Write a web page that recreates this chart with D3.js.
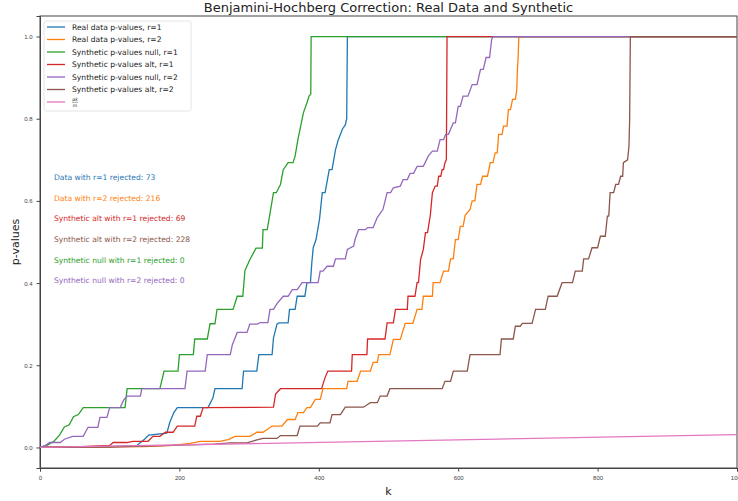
<!DOCTYPE html>
<html>
<head>
<meta charset="utf-8">
<script src="https://cdn.jsdelivr.net/npm/d3@7"></script>
<style>
  body { margin: 0; background: #fff; }
  svg { font-family: "DejaVu Sans", sans-serif; }
  .axis path, .axis line { stroke: #444; }
  .axis text { fill: #444; font-size: 6px; }
  .series { fill: none; stroke-width: 1.3; }
</style>
</head>
<body>
<svg id="chart" width="738" height="501"></svg>
<script>
// sorted BH-adjusted p-values as [k, p] breakpoints
var realR1 = [[0,0],[100,0.002],[139,0.005],[150,0.02],[156,0.03],[182,0.035],[186,0.06],[192,0.085],[197,0.097],[241,0.097],[248,0.12],[251,0.143],[290,0.143],[292,0.186],[311,0.186],[314,0.226],[333,0.226],[335,0.267],[340,0.3],[343,0.303],[356,0.303],[358,0.336],[366,0.336],[369,0.368],[380,0.368],[383,0.401],[388,0.401],[390,0.45],[392,0.486],[396,0.506],[401,0.555],[405,0.62],[409,0.62],[415,0.676],[419,0.676],[424,0.725],[428,0.749],[434,0.775],[438,0.785],[440,0.8],[441,1.0],[1000,1.0]];

var realR2 = [[0,0],[150,0.002],[190,0.005],[215,0.01],[230,0.015],[258,0.015],[270,0.019],[280,0.027],[301,0.027],[311,0.037],[320,0.037],[333,0.052],[347,0.052],[355,0.068],[366,0.068],[370,0.085],[378,0.085],[383,0.097],[388,0.097],[395,0.117],[402,0.117],[406,0.143],[440,0.143],[442,0.161],[455,0.161],[460,0.186],[474,0.186],[478,0.207],[484,0.207],[486,0.226],[502,0.226],[507,0.263],[517,0.263],[520,0.28],[524,0.302],[535,0.302],[541,0.336],[548,0.336],[550,0.368],[563,0.368],[564,0.401],[574,0.401],[579,0.429],[586,0.429],[589,0.459],[593,0.459],[596,0.506],[600,0.506],[603,0.538],[607,0.538],[610,0.565],[617,0.579],[620,0.6],[624,0.6],[627,0.64],[632,0.64],[635,0.66],[642,0.66],[646,0.693],[650,0.693],[653,0.717],[656,0.717],[658,0.762],[663,0.762],[665,0.782],[670,0.782],[672,0.822],[675,0.822],[678,0.847],[682,0.847],[684,0.87],[685,0.92],[686,0.95],[687,1.0],[1000,1.0]];

var nullR1 = [[0,0],[10,0.005],[20,0.015],[28,0.03],[35,0.05],[42,0.055],[48,0.075],[55,0.08],[62,0.097],[122,0.097],[125,0.143],[172,0.143],[178,0.186],[198,0.186],[200,0.226],[220,0.226],[222,0.264],[240,0.264],[244,0.301],[251,0.301],[254,0.336],[277,0.336],[283,0.368],[291,0.368],[294,0.43],[301,0.457],[310,0.485],[319,0.485],[320,0.53],[326,0.53],[329,0.56],[335,0.62],[339,0.62],[345,0.64],[349,0.676],[356,0.693],[363,0.693],[366,0.709],[370,0.749],[378,0.815],[383,0.839],[386,0.855],[388.5,0.86],[389,1.0],[1000,1.0]];

var altR1 = [[0,0],[60,0.002],[100,0.005],[105,0.012],[125,0.012],[133,0.015],[155,0.015],[162,0.027],[172,0.027],[180,0.037],[191,0.037],[197,0.052],[222,0.052],[225,0.076],[230,0.076],[234,0.097],[335,0.098],[338,0.13],[345,0.143],[404,0.143],[409,0.17],[413,0.186],[447,0.186],[448,0.226],[469,0.226],[470,0.264],[495,0.264],[498,0.303],[507,0.303],[510,0.336],[527,0.336],[528,0.368],[538,0.368],[541,0.401],[543,0.401],[546,0.457],[550,0.482],[553,0.523],[556,0.523],[560,0.565],[563,0.62],[567,0.636],[570,0.636],[572,0.66],[575,0.66],[577,0.676],[579,0.676],[581,0.693],[583,0.7],[584,1.0],[1000,1.0]];

var nullR2 = [[0,0],[8,0.005],[14,0.012],[29,0.012],[35,0.02],[47,0.027],[62,0.027],[66,0.04],[69,0.049],[83,0.049],[86,0.073],[96,0.073],[100,0.097],[115,0.097],[120,0.115],[125,0.125],[144,0.125],[146,0.143],[208,0.143],[211,0.186],[237,0.186],[240,0.226],[273,0.226],[276,0.25],[283,0.28],[297,0.28],[301,0.3],[312,0.3],[316,0.304],[327,0.304],[330,0.336],[335,0.336],[340,0.35],[349,0.368],[356,0.368],[362,0.384],[369,0.384],[376,0.401],[399,0.401],[402,0.429],[406,0.429],[412,0.441],[421,0.441],[424,0.459],[438,0.459],[441,0.482],[450,0.49],[452,0.506],[457,0.53],[467,0.53],[470,0.535],[478,0.535],[484,0.56],[492,0.579],[498,0.62],[503,0.62],[507,0.632],[517,0.636],[521,0.652],[527,0.652],[531,0.667],[536,0.667],[541,0.684],[550,0.684],[557,0.709],[563,0.721],[570,0.721],[574,0.749],[579,0.749],[582,0.762],[586,0.762],[593,0.79],[596,0.79],[600,0.83],[603,0.83],[607,0.855],[614,0.855],[620,0.883],[627,0.883],[632,0.92],[636,0.92],[640,0.949],[645,0.949],[648,0.993],[650,1.0],[1000,1.0]];

var altR2 = [[0,0],[100,0.001],[190,0.005],[250,0.008],[273,0.011],[297,0.011],[310,0.018],[320,0.022],[340,0.022],[345,0.029],[369,0.029],[373,0.052],[398,0.052],[402,0.06],[416,0.06],[419,0.08],[431,0.08],[438,0.098],[464,0.098],[474,0.109],[484,0.109],[488,0.125],[498,0.125],[502,0.143],[577,0.143],[581,0.161],[589,0.161],[593,0.186],[613,0.186],[617,0.226],[660,0.226],[662,0.264],[679,0.264],[682,0.295],[689,0.295],[692,0.302],[706,0.302],[711,0.336],[725,0.336],[729,0.368],[742,0.368],[749,0.401],[764,0.401],[768,0.429],[778,0.429],[780,0.459],[787,0.459],[792,0.486],[800,0.486],[804,0.514],[811,0.514],[814,0.563],[816,0.563],[818,0.62],[823,0.62],[826,0.64],[830,0.64],[833,0.66],[836,0.66],[837,0.693],[843,0.7],[845,0.733],[846,0.8],[847,1.0],[1000,1.0]];

// alpha * k / m threshold line
var bhLine = [[0,0],[1000,0.031]];

var seriesLabels = ["Real data p-values, r=1", "Real data p-values, r=2", "Synthetic p-values null, r=1",
                    "Synthetic p-values alt, r=1", "Synthetic p-values null, r=2", "Synthetic p-values alt, r=2", ""];
var seriesColors = ["#1f77b4", "#ff7f0e", "#2ca02c", "#d62728", "#9467bd", "#8c564b", "#e377c2"];
var seriesData = [realR1, realR2, nullR1, altR1, nullR2, altR2, bhLine];

var notes = ["Data with r=1 rejected: 73", "Data with r=2 rejected: 216", "Synthetic alt with r=1 rejected: 69",
             "Synthetic alt with r=2 rejected: 228", "Synthetic null with r=1 rejected: 0", "Synthetic null with r=2 rejected: 0"];
var noteColors = ["#1f77b4", "#ff7f0e", "#d62728", "#8c564b", "#2ca02c", "#9467bd"];
var noteY = [0.65, 0.60, 0.55, 0.50, 0.45, 0.40];

var xTicks = [0, 200, 400, 600, 800, 1000];
var yTicks = [0.0, 0.2, 0.4, 0.6, 0.8, 1.0];

var svg = d3.select("#chart"),
    margin = {top: 16, right: 1, bottom: 33, left: 40},
    width = +svg.attr("width") - margin.left - margin.right,
    height = +svg.attr("height") - margin.top - margin.bottom;

var x = d3.scaleLinear().domain([0, 1000]).range([margin.left, margin.left + width]);
var y = d3.scaleLinear().domain([-0.05, 1.05]).range([margin.top + height, margin.top]);

var line = d3.line()
    .x(function(d) { return x(d[0]); })
    .y(function(d) { return y(d[1]); });

svg.append("g")
    .attr("class", "axis")
    .attr("transform", "translate(0," + (margin.top + height) + ")")
    .call(d3.axisBottom(x).tickValues(xTicks).tickSize(3.5).tickPadding(4).tickFormat(d3.format("d")));

svg.append("g")
    .attr("class", "axis")
    .attr("transform", "translate(" + margin.left + ",0)")
    .call(d3.axisLeft(y).tickValues(yTicks).tickSize(3.5).tickPadding(4).tickFormat(d3.format(".1f")));

// top and right spines
svg.append("rect")
    .attr("x", margin.left)
    .attr("y", margin.top)
    .attr("width", width)
    .attr("height", height)
    .attr("fill", "none")
    .attr("stroke", "#444");

svg.selectAll(".series")
    .data(seriesData)
  .enter().append("path")
    .attr("class", "series")
    .attr("stroke", function(d, i) { return seriesColors[i]; })
    .attr("d", line);

// rejection counts
svg.selectAll(".note")
    .data(notes)
  .enter().append("text")
    .attr("class", "note")
    .attr("x", x(20))
    .attr("y", function(d, i) { return y(noteY[i]); })
    .attr("fill", function(d, i) { return noteColors[i]; })
    .attr("font-size", "7.6px")
    .text(function(d) { return d; });

// legend
var legend = svg.append("g").attr("transform", "translate(44,21)");
legend.append("rect")
    .attr("width", 147)
    .attr("height", 90)
    .attr("rx", 2)
    .attr("fill", "#fff")
    .attr("fill-opacity", 0.8)
    .attr("stroke", "#ddd")
    .attr("stroke-width", 0.8);

var items = legend.selectAll(".item")
    .data(seriesLabels)
  .enter().append("g")
    .attr("transform", function(d, i) { return "translate(0," + (6 + i * 12.5) + ")"; });

items.append("line")
    .attr("x1", 3).attr("x2", 21)
    .attr("stroke", function(d, i) { return seriesColors[i]; })
    .attr("stroke-width", 1.3);

items.append("text")
    .attr("x", 28)
    .attr("y", 2.7)
    .attr("font-size", "7.6px")
    .attr("fill", "#222")
    .text(function(d) { return d; });

// alpha k / m fraction for the last entry
var frac = legend.append("g").attr("transform", "translate(28," + (6 + 6 * 12.5) + ")");
frac.append("text").attr("x", 3).attr("y", -1).attr("font-size", "4.5px").attr("font-style", "italic")
    .attr("text-anchor", "middle").attr("fill", "#222").text("αk");
frac.append("line").attr("x1", 0).attr("x2", 6).attr("y1", 0.3).attr("y2", 0.3)
    .attr("stroke", "#222").attr("stroke-width", 0.4);
frac.append("text").attr("x", 3).attr("y", 4.6).attr("font-size", "4.5px").attr("font-style", "italic")
    .attr("text-anchor", "middle").attr("fill", "#222").text("m");

// titles
svg.append("text")
    .attr("x", margin.left + width / 2)
    .attr("y", 12)
    .attr("text-anchor", "middle")
    .attr("font-size", "13px")
    .attr("fill", "#222")
    .text("Benjamini-Hochberg Correction: Real Data and Synthetic");

svg.append("text")
    .attr("x", margin.left + width / 2)
    .attr("y", 495)
    .attr("text-anchor", "middle")
    .attr("font-size", "11px")
    .attr("fill", "#222")
    .text("k");

svg.append("text")
    .attr("transform", "translate(19," + (margin.top + height / 2) + ") rotate(-90)")
    .attr("text-anchor", "middle")
    .attr("font-size", "11px")
    .attr("fill", "#222")
    .text("p-values");
</script>
</body>
</html>
